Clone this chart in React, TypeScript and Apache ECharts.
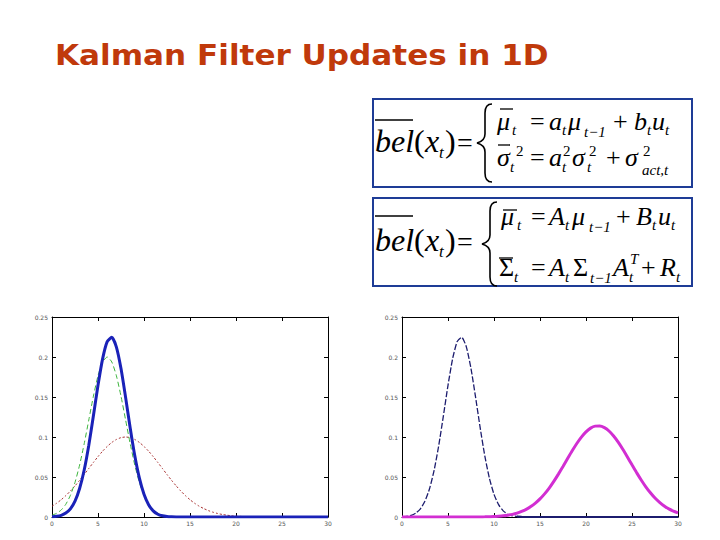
import React, { useEffect, useRef } from "react";
import * as echarts from "echarts";

const titleText = "Kalman Filter Updates in 1D";

const xs = [
  0, 0.5, 1, 1.5, 2, 2.5, 3, 3.5, 4, 4.5, 5, 5.5, 6, 6.5, 7, 7.5, 8, 8.5, 9, 9.5,
  10, 10.5, 11, 11.5, 12, 12.5, 13, 13.5, 14, 14.5, 15, 15.5, 16, 16.5, 17, 17.5,
  18, 18.5, 19, 19.5, 20, 20.5, 21, 21.5, 22, 22.5, 23, 23.5, 24, 24.5, 25, 25.5,
  26, 26.5, 27, 27.5, 28, 28.5, 29, 29.5, 30,
];

// left panel: posterior (thick blue), prior (green dashed), measurement (red dotted)
const blueLeft = [
  0.0003, 0.0009, 0.0021, 0.0049, 0.0102, 0.0199, 0.0356, 0.0588, 0.0898, 0.1265,
  0.1646, 0.1977, 0.2193, 0.2246, 0.2124, 0.1855, 0.1495, 0.1113, 0.0765, 0.0485,
  0.0284, 0.0154, 0.0077, 0.0035, 0.0015, 0.0006, 0.0002, 0, 0, 0, 0, 0, 0, 0, 0, 0,
  0, 0, 0, 0, 0, 0, 0, 0, 0, 0, 0, 0, 0, 0, 0, 0, 0, 0, 0, 0, 0, 0, 0, 0, 0,
];
const greenLeft = [
  0.0022, 0.0046, 0.0088, 0.0159, 0.0271, 0.0433, 0.0649, 0.0916, 0.1213, 0.151,
  0.1765, 0.1938, 0.2, 0.1938, 0.1765, 0.151, 0.1213, 0.0916, 0.0649, 0.0433,
  0.0271, 0.0159, 0.0088, 0.0046, 0.0022, 0.001, 0.0004, 0, 0, 0, 0, 0, 0, 0, 0, 0,
  0, 0, 0, 0, 0, 0, 0, 0, 0, 0, 0, 0, 0, 0, 0, 0, 0, 0, 0, 0, 0, 0, 0, 0, 0,
];
const redLeft = [
  0.0135, 0.0172, 0.0216, 0.0267, 0.0325, 0.0389, 0.0458, 0.0531, 0.0607, 0.0682,
  0.0755, 0.0823, 0.0882, 0.0932, 0.0969, 0.0992, 0.1, 0.0992, 0.0969, 0.0932,
  0.0882, 0.0823, 0.0755, 0.0682, 0.0607, 0.0531, 0.0458, 0.0389, 0.0325, 0.0267,
  0.0216, 0.0172, 0.0135, 0.0105, 0.008, 0.006, 0.0044, 0.0032, 0.0023, 0.0016,
  0.0011, 0.0008, 0.0005, 0.0003, 0.0002, 0.0001, 0.0001, 0, 0, 0, 0, 0, 0, 0, 0, 0,
  0, 0, 0, 0, 0,
];
// right panel: previous belief (navy dashed), predicted belief (thick magenta)
const navyRight = blueLeft.slice();
const magentaRight = [
  0, 0, 0, 0, 0, 0, 0, 0, 0, 0, 0, 0, 0, 0, 0, 0, 0, 0.0001, 0.0002, 0.0004, 0.0006,
  0.001, 0.0015, 0.0023, 0.0033, 0.0048, 0.0069, 0.0095, 0.013, 0.0173, 0.0226,
  0.0289, 0.0362, 0.0445, 0.0536, 0.0632, 0.0731, 0.0828, 0.0919, 0.0999, 0.1064,
  0.1111, 0.1136, 0.1138, 0.1117, 0.1075, 0.1013, 0.0936, 0.0847, 0.0751, 0.0652,
  0.0555, 0.0463, 0.0378, 0.0303, 0.0237, 0.0183, 0.0137, 0.0101, 0.0073, 0.0052,
];

const xTicks = { min: 0, max: 30, interval: 5 };
const yTicks = { min: 0, max: 0.25, interval: 0.05 };

const SERIF = '"Liberation Serif", "Times New Roman", serif';

function T(text: string, x: number, baseline: number, size: number, italic = true) {
  return {
    type: "text",
    silent: true,
    style: {
      text,
      x,
      y: baseline - 0.34 * size,
      font: `${italic ? "italic " : ""}${size}px ${SERIF}`,
      fill: "#000",
      align: "left",
      verticalAlign: "middle",
    },
  };
}
function bar(x1: number, x2: number, y: number, w = 1.3) {
  return {
    type: "line",
    silent: true,
    shape: { x1, y1: y, x2, y2: y },
    style: { stroke: "#000", lineWidth: w },
  };
}
function braceD(x: number, top: number, bottom: number) {
  const mid = (top + bottom) / 2;
  const xe = x + 15;
  const xs2 = x + 8;
  return `M ${xe} ${top} C ${xs2 + 2} ${top}, ${xs2} ${top + 3}, ${xs2} ${top + 9} L ${xs2} ${mid - 9} C ${xs2} ${mid - 3}, ${x + 4} ${mid - 1}, ${x} ${mid} C ${x + 4} ${mid + 1}, ${xs2} ${mid + 3}, ${xs2} ${mid + 9} L ${xs2} ${bottom - 9} C ${xs2} ${bottom - 3}, ${xs2 + 2} ${bottom}, ${xe} ${bottom}`;
}

let registered = false;
function registerBraces() {
  if (registered) return;
  registered = true;
  echarts.graphic.registerShape("brace1", echarts.graphic.extendPath(braceD(477, 104, 182), {}));
  echarts.graphic.registerShape("brace2", echarts.graphic.extendPath(braceD(482, 202, 286), {}));
}

const SUB = 15;

function formulaGraphics() {
  const g: any[] = [];
  g.push({ type: "rect", silent: true, shape: { x: 373, y: 99, width: 319, height: 88 }, style: { fill: "none", stroke: "#1e3c96", lineWidth: 2 } });
  g.push({ type: "rect", silent: true, shape: { x: 373, y: 198, width: 319, height: 88 }, style: { fill: "none", stroke: "#1e3c96", lineWidth: 2 } });
  g.push({ type: "brace1", x: 0, y: 0, silent: true, style: { fill: "none", stroke: "#000", lineWidth: 1.6 } });
  g.push({ type: "brace2", x: 0, y: 0, silent: true, style: { fill: "none", stroke: "#000", lineWidth: 1.6 } });

  const lhs = (bl: number, barY: number) => {
    g.push(T("bel", 375, bl, 32));
    g.push(bar(375, 413, barY, 1.5));
    g.push(T("(", 414, bl, 32, false));
    g.push(T("x", 425, bl, 32));
    g.push(T("t", 439, bl + 6, 17));
    g.push(T(")", 445, bl, 32, false));
    g.push(T("=", 457, bl, 28, false));
  };

  // ---- box 1 ----
  lhs(152, 120);
  let b = 130;
  g.push(T("\u03bc", 497, b, 26));
  g.push(bar(500, 513, 109));
  g.push(T("t", 512, b + 5, SUB));
  g.push(T("=", 530, b, 26, false));
  g.push(T("a", 549, b, 26));
  g.push(T("t", 562, b + 5, SUB));
  g.push(T("\u03bc", 568, b, 26));
  g.push(T("t\u22121", 584, b + 7, SUB));
  g.push(T("+", 613, b, 26, false));
  g.push(T("b", 634, b, 26));
  g.push(T("t", 647, b + 5, SUB));
  g.push(T("u", 652, b, 26));
  g.push(T("t", 665, b + 5, SUB));
  b = 166;
  g.push(T("\u03c3", 497, b, 26));
  g.push(bar(498, 510, 145));
  g.push(T("t", 510, b + 6, SUB));
  g.push(T("2", 516, b - 10, SUB, false));
  g.push(T("=", 530, b, 26, false));
  g.push(T("a", 549, b, 26));
  g.push(T("2", 563, b - 10, SUB, false));
  g.push(T("t", 562, b + 6, SUB));
  g.push(T("\u03c3", 572, b, 26));
  g.push(T("2", 589, b - 10, SUB, false));
  g.push(T("t", 587, b + 6, SUB));
  g.push(T("+", 606, b, 26, false));
  g.push(T("\u03c3", 625, b, 26));
  g.push(T("2", 643, b - 10, SUB, false));
  g.push(T("act,t", 642, b + 9, SUB));

  // ---- box 2 ----
  lhs(251, 216);
  b = 225;
  g.push(T("\u03bc", 501, b, 26));
  g.push(bar(503, 517, 210));
  g.push(T("t", 517, b + 5, SUB));
  g.push(T("=", 531, b, 26, false));
  g.push(T("A", 549, b, 26));
  g.push(T("t", 565, b + 5, SUB));
  g.push(T("\u03bc", 572, b, 26));
  g.push(T("t\u22121", 589, b + 7, SUB));
  g.push(T("+", 616, b, 26, false));
  g.push(T("B", 636, b, 26));
  g.push(T("t", 652, b + 5, SUB));
  g.push(T("u", 658, b, 26));
  g.push(T("t", 671, b + 5, SUB));
  b = 276;
  g.push(T("\u03a3", 499, b, 26, false));
  g.push(bar(499, 513, 258));
  g.push(T("t", 514, b + 6, SUB));
  g.push(T("=", 531, b, 26, false));
  g.push(T("A", 549, b, 26));
  g.push(T("t", 565, b + 6, SUB));
  g.push(T("\u03a3", 573, b, 26, false));
  g.push(T("t\u22121", 590, b + 7, SUB));
  g.push(T("A", 613, b, 26));
  g.push(T("T", 630, b - 12, SUB));
  g.push(T("t", 629, b + 6, SUB));
  g.push(T("+", 641, b, 26, false));
  g.push(T("R", 660, b, 26));
  g.push(T("t", 676, b + 6, SUB));
  return g;
}

const labelStyle = { fontSize: 6, color: "#555", fontFamily: "DejaVu Sans" };

function mkX(gridIndex: number, top: boolean) {
  return {
    type: "value",
    gridIndex,
    position: top ? "top" : "bottom",
    ...xTicks,
    axisLine: { show: true, onZero: false, lineStyle: { color: "#000", width: 1 } },
    axisTick: { show: true, inside: true, length: 4, lineStyle: { color: "#000" } },
    axisLabel: { show: !top, margin: 3, ...labelStyle },
    splitLine: { show: false },
  };
}
function mkY(gridIndex: number, right: boolean) {
  return {
    type: "value",
    gridIndex,
    position: right ? "right" : "left",
    ...yTicks,
    axisLine: { show: true, onZero: false, lineStyle: { color: "#000", width: 1 } },
    axisTick: { show: true, inside: true, length: 4, lineStyle: { color: "#000" } },
    axisLabel: { show: !right, margin: 4, ...labelStyle },
    splitLine: { show: false },
  };
}

function line(data: (number | null)[], xi: number, color: string, width: number, type: any, smooth = 0.2) {
  return {
    type: "line",
    xAxisIndex: xi,
    yAxisIndex: xi,
    data: xs.map((x, i) => [x, data[i]]),
    showSymbol: false,
    symbol: "none",
    smooth,
    connectNulls: false,
    silent: true,
    lineStyle: { color, width, type },
  };
}

// flat tail of the navy curve, drawn solid as in the reference
const navyFlat = navyRight.map((v, i) => (xs[i] >= 12.5 ? v : null));

export default function App() {
  const ref = useRef<HTMLDivElement>(null);
  useEffect(() => {
    if (!ref.current) return;
    registerBraces();
    const chart = echarts.init(ref.current, null, { renderer: "svg" });
    chart.setOption({
      animation: false,
      backgroundColor: "#fff",
      grid: [
        { left: 52, top: 317, width: 276, height: 200, show: false },
        { left: 402, top: 317, width: 276, height: 200, show: false },
      ],
      xAxis: [mkX(0, false), mkX(1, false), mkX(0, true), mkX(1, true)],
      yAxis: [mkY(0, false), mkY(1, false), mkY(0, true), mkY(1, true)],
      series: [
        line(redLeft, 0, "#a83232", 1, [2, 2]),
        line(greenLeft, 0, "#3cb43c", 1, [5, 3]),
        line(blueLeft, 0, "#1a22b8", 3, "solid"),
        line(navyRight, 1, "#1c1c6e", 1.3, [6, 2]),
        line(navyFlat, 1, "#1c1c6e", 2.2, "solid", 0),
        line(magentaRight, 1, "#d22ed2", 3, "solid"),
      ],
      graphic: [
        {
          type: "text",
          silent: true,
          x: 55,
          y: 65 - 0.346 * 28,
          scaleX: 1.11,
          style: {
            text: titleText,
            x: 0,
            y: 0,
            font: 'bold 28px "DejaVu Sans", Verdana, sans-serif',
            fill: "#c0390b",
            align: "left",
            verticalAlign: "middle",
          },
        },
        ...formulaGraphics(),
      ],
    });
    return () => chart.dispose();
  }, []);
  return (
    <div
      ref={ref}
      style={{ position: "absolute", left: 0, top: 0, width: 720, height: 540 }}
    />
  );
}
